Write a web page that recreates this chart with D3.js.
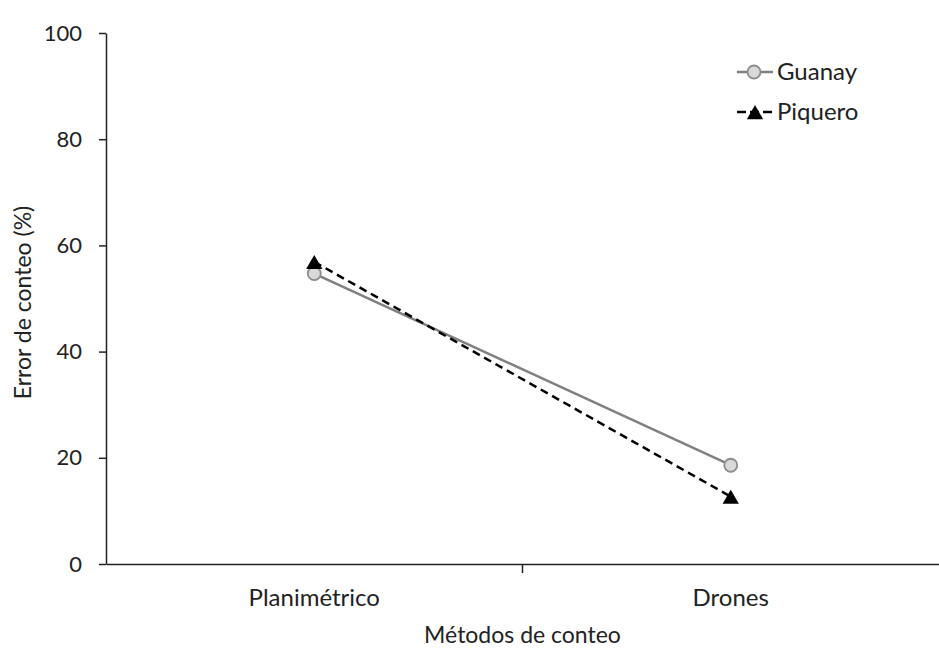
<!DOCTYPE html>
<html>
<head>
<meta charset="utf-8">
<script src="https://cdn.jsdelivr.net/npm/d3@7"></script>
<style>
  body { margin: 0; background: #fff; }
  svg text { font-family: Lato, "Open Sans", sans-serif; fill: #222; }
</style>
</head>
<body>
<div id="chart"></div>
<script>
const methods = ["Planimétrico", "Drones"];
const guanay = [54.7, 18.6];
const piquero = [56.9, 12.7];
const yTicks = [0, 20, 40, 60, 80, 100];

const width = 939, height = 651;
const margin = {top: 33, right: 0, bottom: 87, left: 106};

const svg = d3.select("#chart").append("svg")
  .attr("width", width)
  .attr("height", height);

const x = d3.scaleBand()
  .domain(methods)
  .range([margin.left, width - margin.right])
  .padding(0);

const y = d3.scaleLinear([0, 100], [height - margin.bottom, margin.top]);

// y axis
svg.append("g")
  .attr("transform", `translate(${margin.left},0)`)
  .call(d3.axisLeft(y).tickValues(yTicks).tickSize(7).tickPadding(17).tickSizeOuter(0))
  .call(g => g.attr("font-family", null).attr("font-size", null))
  .call(g => g.select(".domain").attr("stroke", "#222").attr("stroke-width", 1.5))
  .call(g => g.selectAll(".tick line").attr("stroke", "#222").attr("stroke-width", 1.5))
  .call(g => g.selectAll(".tick text").attr("font-size", 22));

// x axis: labels at centres, tick marks between categories
svg.append("g")
  .attr("transform", `translate(0,${y(0)})`)
  .call(d3.axisBottom(x).tickSize(0).tickPadding(25).tickSizeOuter(0))
  .call(g => g.attr("font-family", null).attr("font-size", null))
  .call(g => g.select(".domain").attr("stroke", "#222").attr("stroke-width", 1.5))
  .call(g => g.selectAll(".tick text").attr("font-size", 24));

svg.append("g")
  .selectAll("line")
  .data(methods.slice(1))
  .join("line")
    .attr("x1", d => x(d))
    .attr("x2", d => x(d))
    .attr("y1", y(0))
    .attr("y2", y(0) + 9)
    .attr("stroke", "#222")
    .attr("stroke-width", 1.5);

// axis titles
svg.append("text")
  .attr("x", x(methods[1]))
  .attr("y", 643)
  .attr("text-anchor", "middle")
  .attr("font-size", 23)
  .text("Métodos de conteo");

svg.append("text")
  .attr("transform", `translate(31,${y(50) + 4}) rotate(-90)`)
  .attr("text-anchor", "middle")
  .attr("font-size", 23)
  .text("Error de conteo (%)");

const cx = d => x(d) + x.bandwidth() / 2;

const line = d3.line()
  .x((d, i) => cx(methods[i]))
  .y(d => y(d));

// Guanay
svg.append("path")
  .datum(guanay)
  .attr("d", line)
  .attr("fill", "none")
  .attr("stroke", "#808080")
  .attr("stroke-width", 2.5);

// Piquero
svg.append("path")
  .datum(piquero)
  .attr("d", line)
  .attr("fill", "none")
  .attr("stroke", "#000")
  .attr("stroke-width", 2.5)
  .attr("stroke-dasharray", "8,5");

const tri = d3.symbol().type(d3.symbolTriangle).size(115);

svg.append("g")
  .selectAll("circle")
  .data(guanay)
  .join("circle")
    .attr("cx", (d, i) => cx(methods[i]))
    .attr("cy", d => y(d))
    .attr("r", 6.5)
    .attr("fill", "#d9d9d9")
    .attr("stroke", "#8c8c8c")
    .attr("stroke-width", 1.8);

svg.append("g")
  .selectAll("path")
  .data(piquero)
  .join("path")
    .attr("d", tri)
    .attr("transform", (d, i) => `translate(${cx(methods[i])},${y(d) + 2.5})`)
    .attr("fill", "#000");

// legend
const legend = svg.append("g").attr("transform", "translate(737,72)");
legend.append("line").attr("x1", 0).attr("x2", 36).attr("y1", 0).attr("y2", 0)
  .attr("stroke", "#808080").attr("stroke-width", 2.5);
legend.append("circle").attr("cx", 17).attr("cy", 0).attr("r", 6.5)
  .attr("fill", "#d9d9d9").attr("stroke", "#8c8c8c").attr("stroke-width", 1.8);
legend.append("text").attr("x", 40).attr("y", 0).attr("dy", "0.35em")
  .attr("font-size", 24).text("Guanay");

legend.append("line").attr("x1", 0).attr("x2", 36).attr("y1", 40).attr("y2", 40)
  .attr("stroke", "#000").attr("stroke-width", 2.5).attr("stroke-dasharray", "9,4");
legend.append("path").attr("d", tri).attr("transform", "translate(18,42.5)").attr("fill", "#000");
legend.append("text").attr("x", 40).attr("y", 40).attr("dy", "0.35em")
  .attr("font-size", 24).text("Piquero");
</script>
</body>
</html>
